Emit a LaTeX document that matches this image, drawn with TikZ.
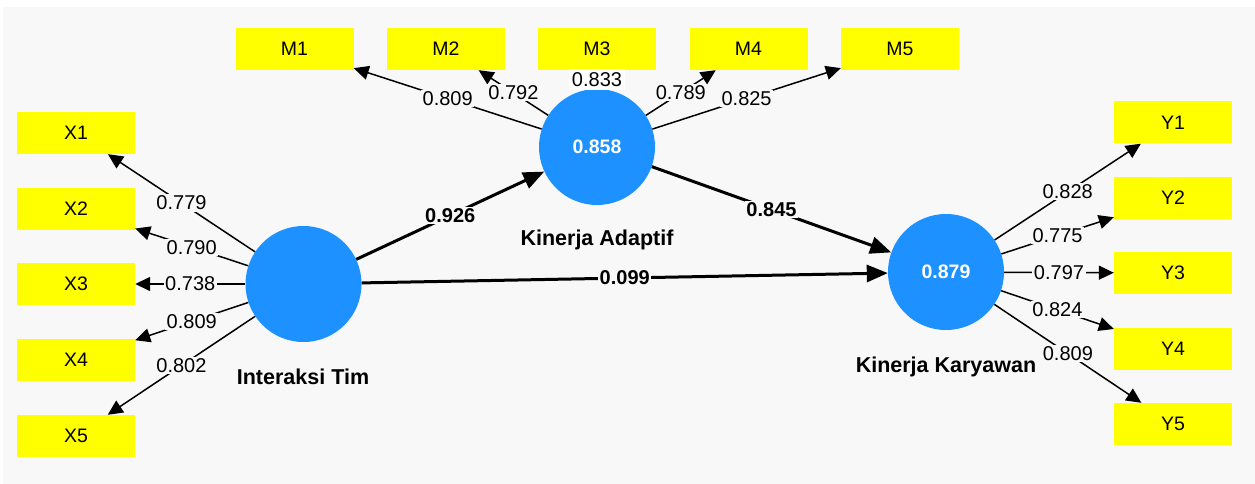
\documentclass[tikz,border=0pt]{standalone}
\usepackage{fontspec}
\setmainfont{Liberation Sans}
\usetikzlibrary{arrows.meta}

\definecolor{lvblue}{RGB}{28,145,255}
\definecolor{mvyellow}{RGB}{255,255,0}
\definecolor{bggray}{RGB}{248,248,248}

\tikzset{
    mv/.style={fill=mvyellow, minimum width=118pt, minimum height=42pt, inner sep=0pt, font=\fontsize{19.5}{22}\selectfont},
    lv/.style={circle, fill=lvblue, minimum size=116pt, inner sep=0pt, text=white, font=\bfseries\fontsize{19.5}{22}\selectfont},
    lvname/.style={font=\bfseries\fontsize{21.5}{24}\selectfont},
    load/.style={line width=1.5pt, -{Triangle[length=15pt, width=14pt]}},
    path/.style={line width=3pt, -{Triangle[length=21pt, width=17pt]}},
    lbl/.style={fill=bggray, inner sep=1.5pt, font=\fontsize{20}{22}\selectfont},
    coef/.style={fill=bggray, inner sep=1.5pt, font=\bfseries\fontsize{20}{22}\selectfont}
}

\begin{document}
\begin{tikzpicture}[x=1pt, y=-1pt]

    % 1. 背景
    \useasboundingbox (0,0) rectangle (1255,484);
    \fill[bggray] (3,7) rectangle (1255,484);

    % 2. 潜变量
    \node[lv] (it) at (303.5,284) {};
    \node[lv] (ka) at (597,147) {0.858};
    \node[lv] (kk) at (946,272) {0.879};
    \node[lvname] (itname) at (303,377) {Interaksi Tim};
    \node[lvname] (kaname) at (597,240) {Kinerja Adaptif};
    \node[lvname] (kkname) at (946,367) {Kinerja Karyawan};

    % 3. 指标
    \foreach \i/\y in {1/133, 2/209, 3/284, 4/360, 5/436}
        \node[mv] (x\i) at (76,\y) {X\i};
    \foreach \i/\x in {1/294.5, 2/446, 3/597, 4/748.5, 5/900}
        \node[mv] (m\i) at (\x,49) {M\i};
    \foreach \i/\y in {1/122.5, 2/198, 3/273, 4/349, 5/424}
        \node[mv] (y\i) at (1173,\y) {Y\i};

    % 4. 外部载荷
    \draw[load] (it) -- node[lbl] {0.779} (x1);
    \draw[load] (it) -- node[lbl] {0.790} (x2);
    \draw[load] (it) -- node[lbl] {0.738} (x3);
    \draw[load] (it) -- node[lbl] {0.809} (x4);
    \draw[load] (it) -- node[lbl] {0.802} (x5);

    \draw[load] (ka) -- node[lbl] {0.809} (m1);
    \draw[load] (ka) -- node[lbl] {0.792} (m2);
    \draw[load] (ka) -- node[lbl, fill=white, inner sep=3pt] {0.833} (m3);
    \draw[load] (ka) -- node[lbl] {0.789} (m4);
    \draw[load] (ka) -- node[lbl] {0.825} (m5);

    \draw[load] (kk) -- node[lbl] {0.828} (y1);
    \draw[load] (kk) -- node[lbl] {0.775} (y2);
    \draw[load] (kk) -- node[lbl] {0.797} (y3);
    \draw[load] (kk) -- node[lbl] {0.824} (y4);
    \draw[load] (kk) -- node[lbl] {0.809} (y5);

    % 5. 路径系数
    \draw[path] (it) -- node[coef] {0.926} (ka);
    \draw[path] (ka) -- node[coef] {0.845} (kk);
    \draw[path] (it) -- node[coef] {0.099} (kk);

\end{tikzpicture}
\end{document}
